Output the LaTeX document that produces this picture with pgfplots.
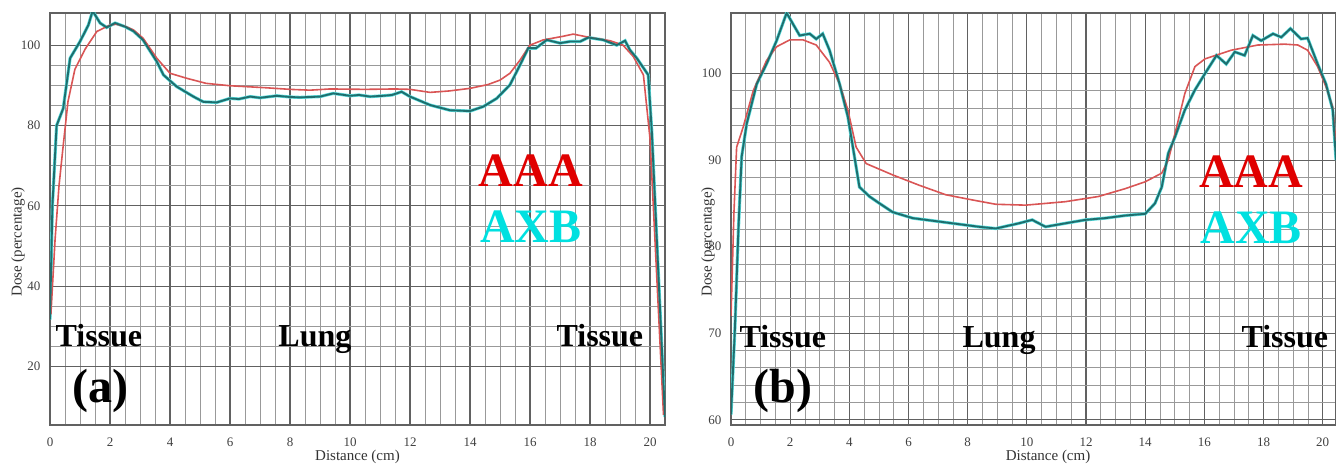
\documentclass[border=0pt]{standalone}
\usepackage{pgfplots}
\pgfplotsset{compat=1.18}
\usepackage{pgfplotstable}
\usepackage{fontspec}
\setmainfont{Liberation Serif}
\definecolor{aaaline}{RGB}{217,85,85}
\definecolor{axbline}{RGB}{30,110,110}
\definecolor{axbhalo}{RGB}{90,220,220}
\definecolor{aaatext}{RGB}{224,0,0}
\definecolor{axbtext}{RGB}{0,224,224}

\pgfplotstableread{
x y
0.03 33
0.17 51.75
0.3 65
0.44 75
0.6 86
0.83 94
1.17 99
1.56 103.4
2.0 105
2.2 105.2
2.5 104.7
2.78 103.8
3.1 101.75
3.56 96.75
4.0 93
4.56 91.75
5.2 90.5
6.0 89.9
7.2 89.4
8.0 89
8.67 88.8
9.33 89.1
10.5 89
11.5 89.1
12.0 89
12.67 88.25
13.3 88.6
14.0 89.25
14.6 90.2
15.0 91.3
15.33 93
15.67 96.3
16.0 100
16.44 101.3
17.1 102.2
17.44 102.75
18.0 101.9
18.67 101.1
19.1 100
19.44 97.2
19.78 92.6
20.0 76.75
20.45 8
}\aaaA

\pgfplotstableread{
x y
0.0 31.75
0.08 60
0.22 80
0.44 84.25
0.67 96.75
1.0 100.9
1.28 105
1.42 108.5
1.67 105.5
1.89 104.4
2.17 105.5
2.5 104.6
2.78 103.5
3.1 101.3
3.56 95.9
3.78 92.6
4.22 89.7
4.78 87.2
5.11 85.9
5.56 85.75
6.0 86.75
6.3 86.6
6.67 87.2
7.0 86.9
7.56 87.4
8.0 87.1
8.33 87
9.0 87.2
9.44 88
10.0 87.4
10.3 87.6
10.67 87.2
11.1 87.4
11.4 87.6
11.72 88.4
12.0 87.2
12.67 85.1
13.33 83.8
14.0 83.6
14.44 84.7
14.89 86.75
15.33 90.1
15.67 95.1
15.94 99.25
16.2 99.25
16.56 101.3
17.0 100.5
17.33 100.9
17.67 100.9
17.94 101.9
18.44 101.3
18.89 100
19.17 101.1
19.33 98.8
19.56 96.75
19.83 93.8
19.94 92.6
20.06 78.5
20.5 7.5
}\axbA

\pgfplotstableread{
x y
0.0 72
0.1 84
0.19 91.5
0.41 93.8
0.75 98
1.2 101.5
1.54 103.1
1.99 103.9
2.43 103.9
2.88 103.3
3.33 101.3
3.67 98.8
3.95 95.8
4.23 91.5
4.57 89.6
5.46 88.3
6.36 87.1
7.26 86
8.16 85.4
8.95 84.9
9.96 84.8
11.3 85.2
12.42 85.8
13.32 86.7
14.0 87.5
14.56 88.5
14.78 90
15.06 93.8
15.34 97.7
15.68 100.8
16.02 101.7
16.91 102.7
17.81 103.3
18.71 103.4
19.16 103.3
19.49 102.7
19.83 100.8
20.11 98.5
20.34 96.1
20.45 92
}\aaaB

\pgfplotstableread{
x y
0.0 60.6
0.13 70.4
0.25 82
0.36 90.4
0.53 94.2
0.87 98.8
1.2 101.1
1.54 103.8
1.88 107
2.1 105.7
2.32 104.4
2.66 104.6
2.88 104
3.1 104.6
3.33 102.7
3.67 98.8
3.95 95
4.12 91.5
4.34 86.9
4.68 85.8
5.02 85
5.46 84
6.14 83.3
7.04 82.9
7.71 82.6
8.38 82.3
8.95 82.1
9.73 82.7
10.18 83.1
10.63 82.3
11.3 82.7
11.98 83.1
12.65 83.3
13.32 83.6
14.0 83.8
14.33 85
14.56 86.9
14.78 90.8
15.01 92.7
15.34 95.8
15.68 98.1
16.02 100
16.41 102.1
16.74 101.1
17.03 102.5
17.36 102.1
17.64 104.4
17.92 103.8
18.32 104.6
18.6 104.2
18.91 105.2
19.27 104
19.49 104.1
19.83 101.1
20.11 98.8
20.34 95.8
20.45 90
}\axbB

\pgfplotsset{
  doseaxis/.style={
    scale only axis,
    anchor=south west,
    height=206pt,
    /pgf/number format/assume math mode=true,
    grid=both,
    major grid style={black!62, line width=0.55pt},
    minor grid style={black!40, line width=0.4pt},
    axis line style={black!62, line width=0.55pt},
    major tick length=0pt, minor tick length=0pt,
    tick label style={font=\fontsize{6.5}{7}\selectfont, text=black!75},
    xticklabel style={yshift=-3pt},
    yticklabel style={xshift=-1.3pt},
    label style={font=\fontsize{7.5}{8}\selectfont, text=black!80},
    xtick={0,2,...,20},
    minor x tick num=3,
    xlabel={Distance (cm)},
  },
}
\tikzset{
  big/.style={font=\fontsize{16}{18}\selectfont\bfseries, text=black, anchor=base},
  lab/.style={font=\fontsize{24}{26}\selectfont\bfseries, text=black, anchor=base},
  legA/.style={font=\fontsize{24}{26}\selectfont\bfseries, text=aaatext, anchor=base},
  legB/.style={font=\fontsize{24}{26}\selectfont\bfseries, text=axbtext, anchor=base},
}

\begin{document}
\begin{tikzpicture}
\useasboundingbox (0,0) rectangle (668pt,232pt);
\clip (0,0) rectangle (668pt,232pt);
% panel (a)
\begin{axis}[doseaxis,
  at={(25pt,19.5pt)}, width=307.5pt,
  xmin=0, xmax=20.5, ymin=5.5, ymax=108,
  ytick={20,40,60,80,100}, minor y tick num=3,
  xlabel style={at={(axis description cs:0.5,0)}, anchor=center, yshift=-16pt},
  ylabel={Dose (percentage)},
  ylabel style={at={(axis description cs:-0.052,0.444)}, anchor=center},
]
\addplot[no marks, color=axbhalo, line width=1.6pt] table[x=x,y=y] {\axbA};
\addplot[no marks, color=aaaline, line width=0.8pt] table[x=x,y=y] {\aaaA};
\addplot[no marks, color=axbline, line width=0.95pt] table[x=x,y=y] {\axbA};
\node[big] at (axis cs:1.63,25) {Tissue};
\node[big] at (axis cs:8.83,25) {Lung};
\node[big] at (axis cs:18.33,25) {Tissue};
\node[lab] at (axis cs:1.67,11) {(a)};
\node[legA] at (axis cs:16.03,64.75) {AAA};
\node[legB] at (axis cs:16.03,51) {AXB};
\end{axis}
% panel (b)
\begin{axis}[doseaxis,
  at={(365.5pt,19.5pt)}, width=302.5pt,
  xmin=0, xmax=20.45, ymin=59.4, ymax=107,
  ytick={60,70,80,90,100}, minor y tick num=4,
  xlabel style={at={(axis description cs:0.524,0)}, anchor=center, yshift=-16pt},
  ylabel={Dose (percentage)},
  ylabel style={at={(axis description cs:-0.038,0.444)}, anchor=center},
]
\addplot[no marks, color=axbhalo, line width=1.6pt] table[x=x,y=y] {\axbB};
\addplot[no marks, color=aaaline, line width=0.8pt] table[x=x,y=y] {\aaaB};
\addplot[no marks, color=axbline, line width=0.95pt] table[x=x,y=y] {\axbB};
\node[big] at (axis cs:1.75,68.4) {Tissue};
\node[big] at (axis cs:9.06,68.4) {Lung};
\node[big] at (axis cs:18.72,68.4) {Tissue};
\node[lab] at (axis cs:1.75,62) {(b)};
\node[legA] at (axis cs:17.58,86.8) {AAA};
\node[legB] at (axis cs:17.58,80.4) {AXB};
\end{axis}
\end{tikzpicture}
\end{document}
